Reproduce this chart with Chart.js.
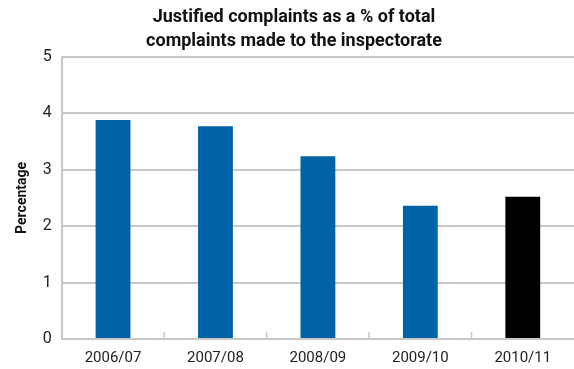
<!DOCTYPE html>
<html>
<head>
<meta charset="utf-8">
<script src="https://cdn.jsdelivr.net/npm/chart.js@4/dist/chart.umd.min.js"></script>
<style>
  html, body { margin: 0; padding: 0; background: #fff; }
  #wrap { width: 574px; height: 369px; }
</style>
</head>
<body>
<div id="wrap"><canvas id="myBars"></canvas></div>
<script>
const years = ['2006/07', '2007/08', '2008/09', '2009/10', '2010/11'];
const justifiedPct = [3.88, 3.77, 3.24, 2.36, 2.52];
const barColours = ['#0063a6', '#0063a6', '#0063a6', '#0063a6', '#000000'];
const yTicks = [0, 1, 2, 3, 4, 5];

// small tick marks between the categories, pointing up into the plot
const innerTicks = {
  id: 'innerTicks',
  afterDatasetsDraw(chart) {
    const x = chart.scales.x;
    const ctx = chart.ctx;
    const bottom = chart.chartArea.bottom;
    ctx.save();
    ctx.strokeStyle = '#c8c8c8';
    ctx.lineWidth = 1.5;
    for (let i = 0; i < years.length - 1; i++) {
      const px = (x.getPixelForTick(i) + x.getPixelForTick(i + 1)) / 2;
      ctx.beginPath();
      ctx.moveTo(px, bottom);
      ctx.lineTo(px, bottom - 7);
      ctx.stroke();
    }
    ctx.restore();
  }
};

new Chart(document.getElementById('myBars'), {
  type: 'bar',
  data: {
    labels: years,
    datasets: [{
      data: justifiedPct,
      backgroundColor: barColours,
      barPercentage: 0.68,
      categoryPercentage: 0.5
    }]
  },
  options: {
    responsive: true,
    maintainAspectRatio: false,
    animation: false,
    layout: { padding: { left: 14, right: 0, top: 2, bottom: 0 } },
    plugins: {
      legend: { display: false },
      tooltip: { enabled: false },
      title: {
        display: true,
        text: ['Justified complaints as a % of total', 'complaints made to the inspectorate'],
        color: '#111',
        font: { family: 'Roboto', size: 18, weight: 'bold', lineHeight: 1.3 },
        padding: { top: 4, bottom: 4 }
      }
    },
    scales: {
      x: {
        grid: { display: false },
        border: { color: '#c8c8c8', width: 2 },
        ticks: { color: '#222', font: { family: 'Roboto', size: 15 }, padding: 2 }
      },
      y: {
        min: 0,
        max: 5,
        afterBuildTicks(scale) {
          scale.ticks = yTicks.map((v) => ({ value: v }));
        },
        grid: { color: '#c8c8c8', lineWidth: 2, drawTicks: false },
        border: { color: '#c8c8c8', width: 2 },
        ticks: { color: '#222', font: { family: 'Roboto', size: 16 }, padding: 10 },
        title: {
          display: true,
          text: 'Percentage',
          color: '#111',
          font: { family: 'Roboto', size: 14, weight: 'bold' },
          padding: { top: 0, bottom: 2 }
        }
      }
    }
  },
  plugins: [innerTicks]
});
</script>
</body>
</html>
